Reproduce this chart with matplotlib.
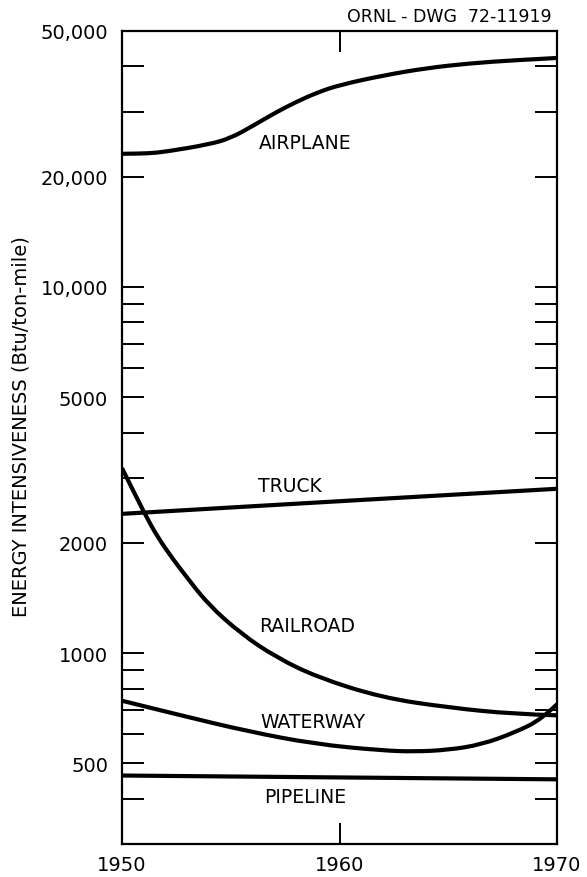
import matplotlib
matplotlib.use("Agg")
import matplotlib.pyplot as plt
from matplotlib.ticker import FixedLocator, NullLocator
from matplotlib.path import Path
from matplotlib.patches import PathPatch

# ---- data ----
airplane_years = [1950, 1951.2, 1952, 1954, 1955, 1956, 1957, 1958, 1959, 1960, 1962, 1964, 1966, 1968, 1970]
airplane_vals = [23100, 23150, 23400, 24500, 25500, 27500, 29800, 32000, 34000, 35600, 37800, 39600, 40800, 41600, 42200]

truck_years = [1950, 1960, 1970]
truck_vals = [2400, 2600, 2810]

railroad_years = [1950, 1951.06, 1951.66, 1952.3, 1952.75, 1953.95, 1955.5, 1957.1, 1959.0, 1961.94, 1965.0, 1968.07, 1970]
railroad_vals = [3200, 2389, 2064, 1821, 1678, 1359, 1126, 973, 858, 756, 710, 681, 676]

waterway_years = [1950, 1952.75, 1955.8, 1958.9, 1961.94, 1963.47, 1965.0, 1966.5, 1968.07, 1969.3, 1970]
waterway_vals = [741, 675, 611, 564, 542, 538, 544, 562, 607, 660, 725]

pipeline_years = [1950, 1970]
pipeline_vals = [463, 452]

series_names = ["AIRPLANE", "TRUCK", "RAILROAD", "WATERWAY", "PIPELINE"]
label_pos_years = [1958.4, 1957.72, 1958.53, 1958.76, 1958.41]
label_pos_vals = [24840, 2870, 1192, 651, 406]

ytick_values = [300, 400, 500, 600, 700, 800, 900, 1000, 2000, 3000, 4000, 5000, 6000, 7000, 8000, 9000,
                10000, 20000, 30000, 40000, 50000]
ytick_labeled = {500: "500", 1000: "1000", 2000: "2000", 5000: "5000", 10000: "10,000", 20000: "20,000", 50000: "50,000"}
xtick_values = [1950, 1960, 1970]
xtick_labels = ["1950", "1960", "1970"]

ylabel = "ENERGY INTENSIVENESS (Btu/ton-mile)"
drawing_id = "ORNL - DWG  72-11919"

# ---- figure ----
plt.rcParams['font.family'] = ['DejaVu Sans']
fig = plt.figure(figsize=(5.87, 8.78), dpi=100)
ax = fig.add_axes([122/587, 1-845/878, (557-122)/587, (845-32)/878])


def smooth_path(xs, ys):
    """Quadratic B-spline style path through the data points (endpoints exact)."""
    pts = list(zip(xs, ys))
    if len(pts) <= 2:
        return Path(pts, [Path.MOVETO] + [Path.LINETO] * (len(pts) - 1))
    verts = [pts[0]]
    codes = [Path.MOVETO]
    m = ((pts[0][0] + pts[1][0]) / 2, (pts[0][1] * pts[1][1]) ** 0.5)
    verts.append(m)
    codes.append(Path.LINETO)
    for i in range(1, len(pts) - 1):
        nxt = pts[i + 1]
        if i + 1 == len(pts) - 1:
            end = nxt
        else:
            end = ((pts[i][0] + nxt[0]) / 2, (pts[i][1] * nxt[1]) ** 0.5)
        verts += [pts[i], end]
        codes += [Path.CURVE3, Path.CURVE3]
    return Path(verts, codes)


lw = 3.0
for yrs, vals in [(airplane_years, airplane_vals), (truck_years, truck_vals),
                  (railroad_years, railroad_vals), (waterway_years, waterway_vals),
                  (pipeline_years, pipeline_vals)]:
    p = smooth_path(yrs, vals)
    patch = PathPatch(p, facecolor="none", edgecolor="black", lw=lw, capstyle="butt",
                      transform=ax.transData)
    ax.add_patch(patch)

for name, xx, yy in zip(series_names, label_pos_years, label_pos_vals):
    ax.text(xx, yy, name, ha="center", va="center", fontsize=13.5, color="black")

ax.set_yscale("log")
ax.set_xlim(1950, 1970)
ax.set_ylim(301, 50000)

ax.yaxis.set_major_locator(FixedLocator(ytick_values))
ax.yaxis.set_minor_locator(NullLocator())
ax.set_yticklabels([ytick_labeled.get(v, "") for v in ytick_values])
ax.set_xticks(xtick_values)
ax.set_xticklabels(xtick_labels)
ax.xaxis.set_minor_locator(NullLocator())

ax.tick_params(axis="y", which="both", direction="in", left=True, right=True,
               length=16, width=1.4, labelsize=14, pad=10)
ax.tick_params(axis="x", which="both", direction="in", top=True, bottom=True,
               length=15, width=1.4, labelsize=14, pad=8)

for s in ax.spines.values():
    s.set_linewidth(1.6)

fig.text(21/587, 1-427/878, ylabel, rotation=90, ha="center", va="center", fontsize=14)
fig.text(552/587, 1-16.5/878, drawing_id, ha="right", va="center", fontsize=12.5)

fig.savefig("out.png", dpi=100)
